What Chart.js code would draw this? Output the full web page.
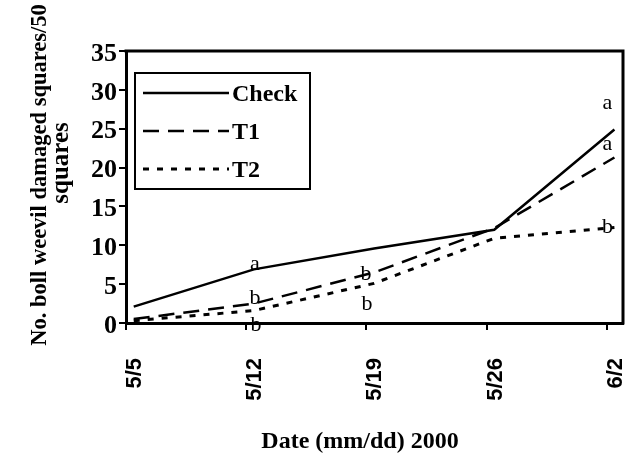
<!DOCTYPE html>
<html>
<head>
<meta charset="utf-8">
<script src="https://cdn.jsdelivr.net/npm/chart.js@4"></script>
<style>
  html, body { margin: 0; padding: 0; background: #fff; }
  #wrap { width: 639px; height: 462px; }
</style>
</head>
<body>
<div id="wrap"><canvas id="weevilChart" width="639" height="462"></canvas></div>
<script>
// Boll weevil damaged squares per 50 squares, by sampling date.
const dateLabels = ['5/5', '5/12', '5/19', '5/26', '6/2'];
const tickDays = [0, 7, 14, 21, 28];
const sampleDays = [0.45, 7.45, 14.45, 21.45, 28.45];
const checkValues = [2.1, 6.9, 9.6, 12.0, 24.9];
const t1Values = [0.5, 2.5, 6.5, 12.2, 21.3];
const t2Values = [0.3, 1.6, 5.1, 10.9, 12.3];
const checkLetters = ['', 'a', '', '', 'a'];
const t1Letters = ['', 'b', 'b', '', 'a'];
const t2Letters = ['', 'b', 'b', '', 'b'];

const serif = "'Liberation Serif', 'Times New Roman', serif";

// where each letter sits relative to its point (dx to centre, dy to baseline)
const letterNudge = {
  '0-1': [1, 1], '0-4': [-7, -20],
  '1-1': [1, 0], '1-2': [-8, 8], '1-4': [-7, -7],
  '2-1': [2, 20], '2-2': [-7, 27], '2-4': [-7, 6],
};

const toPoints = (vals) => sampleDays.map((d, i) => ({ x: d, y: vals[i] }));

const lettersPlugin = {
  id: 'letters',
  afterDatasetsDraw(chart) {
    const ctx = chart.ctx;
    ctx.save();
    ctx.fillStyle = '#000';
    ctx.font = `22px ${serif}`;
    ctx.textAlign = 'center';
    ctx.textBaseline = 'alphabetic';
    chart.data.datasets.forEach((ds, di) => {
      const meta = chart.getDatasetMeta(di);
      ds.letters.forEach((txt, i) => {
        if (!txt) return;
        const p = meta.data[i];
        const n = letterNudge[`${di}-${i}`] || [0, 0];
        ctx.fillText(txt, p.x + n[0], p.y + n[1]);
      });
    });
    ctx.restore();
  }
};

const framePlugin = {
  id: 'frame',
  afterDraw(chart) {
    const { ctx, chartArea: a } = chart;
    ctx.save();
    ctx.strokeStyle = '#000';
    ctx.lineWidth = 3;
    ctx.beginPath();
    ctx.moveTo(a.left - 1.5, a.top);
    ctx.lineTo(a.right, a.top);
    ctx.lineTo(a.right, a.bottom + 1.5);
    ctx.stroke();

    // legend box
    ctx.lineWidth = 2;
    ctx.strokeRect(135, 73, 175, 116);
    chart.data.datasets.forEach((ds, i) => {
      const y = 93 + i * 38;
      ctx.lineWidth = ds.borderWidth;
      ctx.setLineDash(ds.borderDash || []);
      ctx.beginPath();
      ctx.moveTo(143, y);
      ctx.lineTo(229, y);
      ctx.stroke();
      ctx.setLineDash([]);
      ctx.fillStyle = '#000';
      ctx.font = `bold 24px ${serif}`;
      ctx.textAlign = 'left';
      ctx.textBaseline = 'alphabetic';
      ctx.fillText(ds.label, 232, y + 8);
    });

    // axis titles
    ctx.font = `bold 24px ${serif}`;
    ctx.textAlign = 'center';
    ctx.fillText('Date (mm/dd) 2000', 360, 448);
    ctx.save();
    ctx.rotate(-Math.PI / 2);
    ctx.font = `bold 22.5px ${serif}`;
    ctx.fillText('No. boll weevil damaged squares/50', -175, 46);
    ctx.font = `bold 25px ${serif}`;
    ctx.fillText('squares', -163, 68);
    ctx.restore();
    ctx.restore();
  }
};

new Chart(document.getElementById('weevilChart'), {
  type: 'line',
  data: {
    datasets: [
      { label: 'Check', data: toPoints(checkValues), letters: checkLetters, borderColor: '#000', borderWidth: 2.5, pointRadius: 0, tension: 0 },
      { label: 'T1', data: toPoints(t1Values), letters: t1Letters, borderColor: '#000', borderWidth: 2.5, borderDash: [16, 9], pointRadius: 0, tension: 0 },
      { label: 'T2', data: toPoints(t2Values), letters: t2Letters, borderColor: '#000', borderWidth: 3, borderDash: [6, 8], pointRadius: 0, tension: 0 }
    ]
  },
  options: {
    responsive: false,
    animation: false,
    layout: { padding: { top: 51, right: 16, left: 0, bottom: 0 } },
    plugins: { legend: { display: false }, tooltip: { enabled: false } },
    scales: {
      x: {
        type: 'linear',
        min: 0,
        max: 28.95,
        afterBuildTicks(scale) { scale.ticks = tickDays.map((v) => ({ value: v })); },
        afterFit(scale) {
          scale.height = 139;
          scale.paddingLeft = 0;
          scale.paddingRight = 0;
        },
        grid: { drawOnChartArea: false, drawTicks: true, tickLength: 7, color: '#000', lineWidth: 2 },
        border: { color: '#000', width: 3 },
        ticks: {
          minRotation: 90,
          maxRotation: 90,
          autoSkip: false,
          labelOffset: 9,
          padding: 28,
          color: '#000',
          font: { family: "'Liberation Sans', Arial, sans-serif", weight: 'bold', size: 22 },
          callback: (v, i) => dateLabels[i]
        }
      },
      y: {
        min: 0,
        max: 35,
        afterFit(scale) {
          scale.width = 126;
          scale.paddingTop = 0;
          scale.paddingBottom = 0;
        },
        grid: { drawOnChartArea: false, tickLength: 7, color: '#000', lineWidth: 2 },
        border: { color: '#000', width: 3 },
        ticks: {
          stepSize: 5,
          padding: 2,
          labelOffset: 3,
          color: '#000',
          font: { family: serif, weight: 'bold', size: 26 }
        }
      }
    }
  },
  plugins: [lettersPlugin, framePlugin]
});
</script>
</body>
</html>
